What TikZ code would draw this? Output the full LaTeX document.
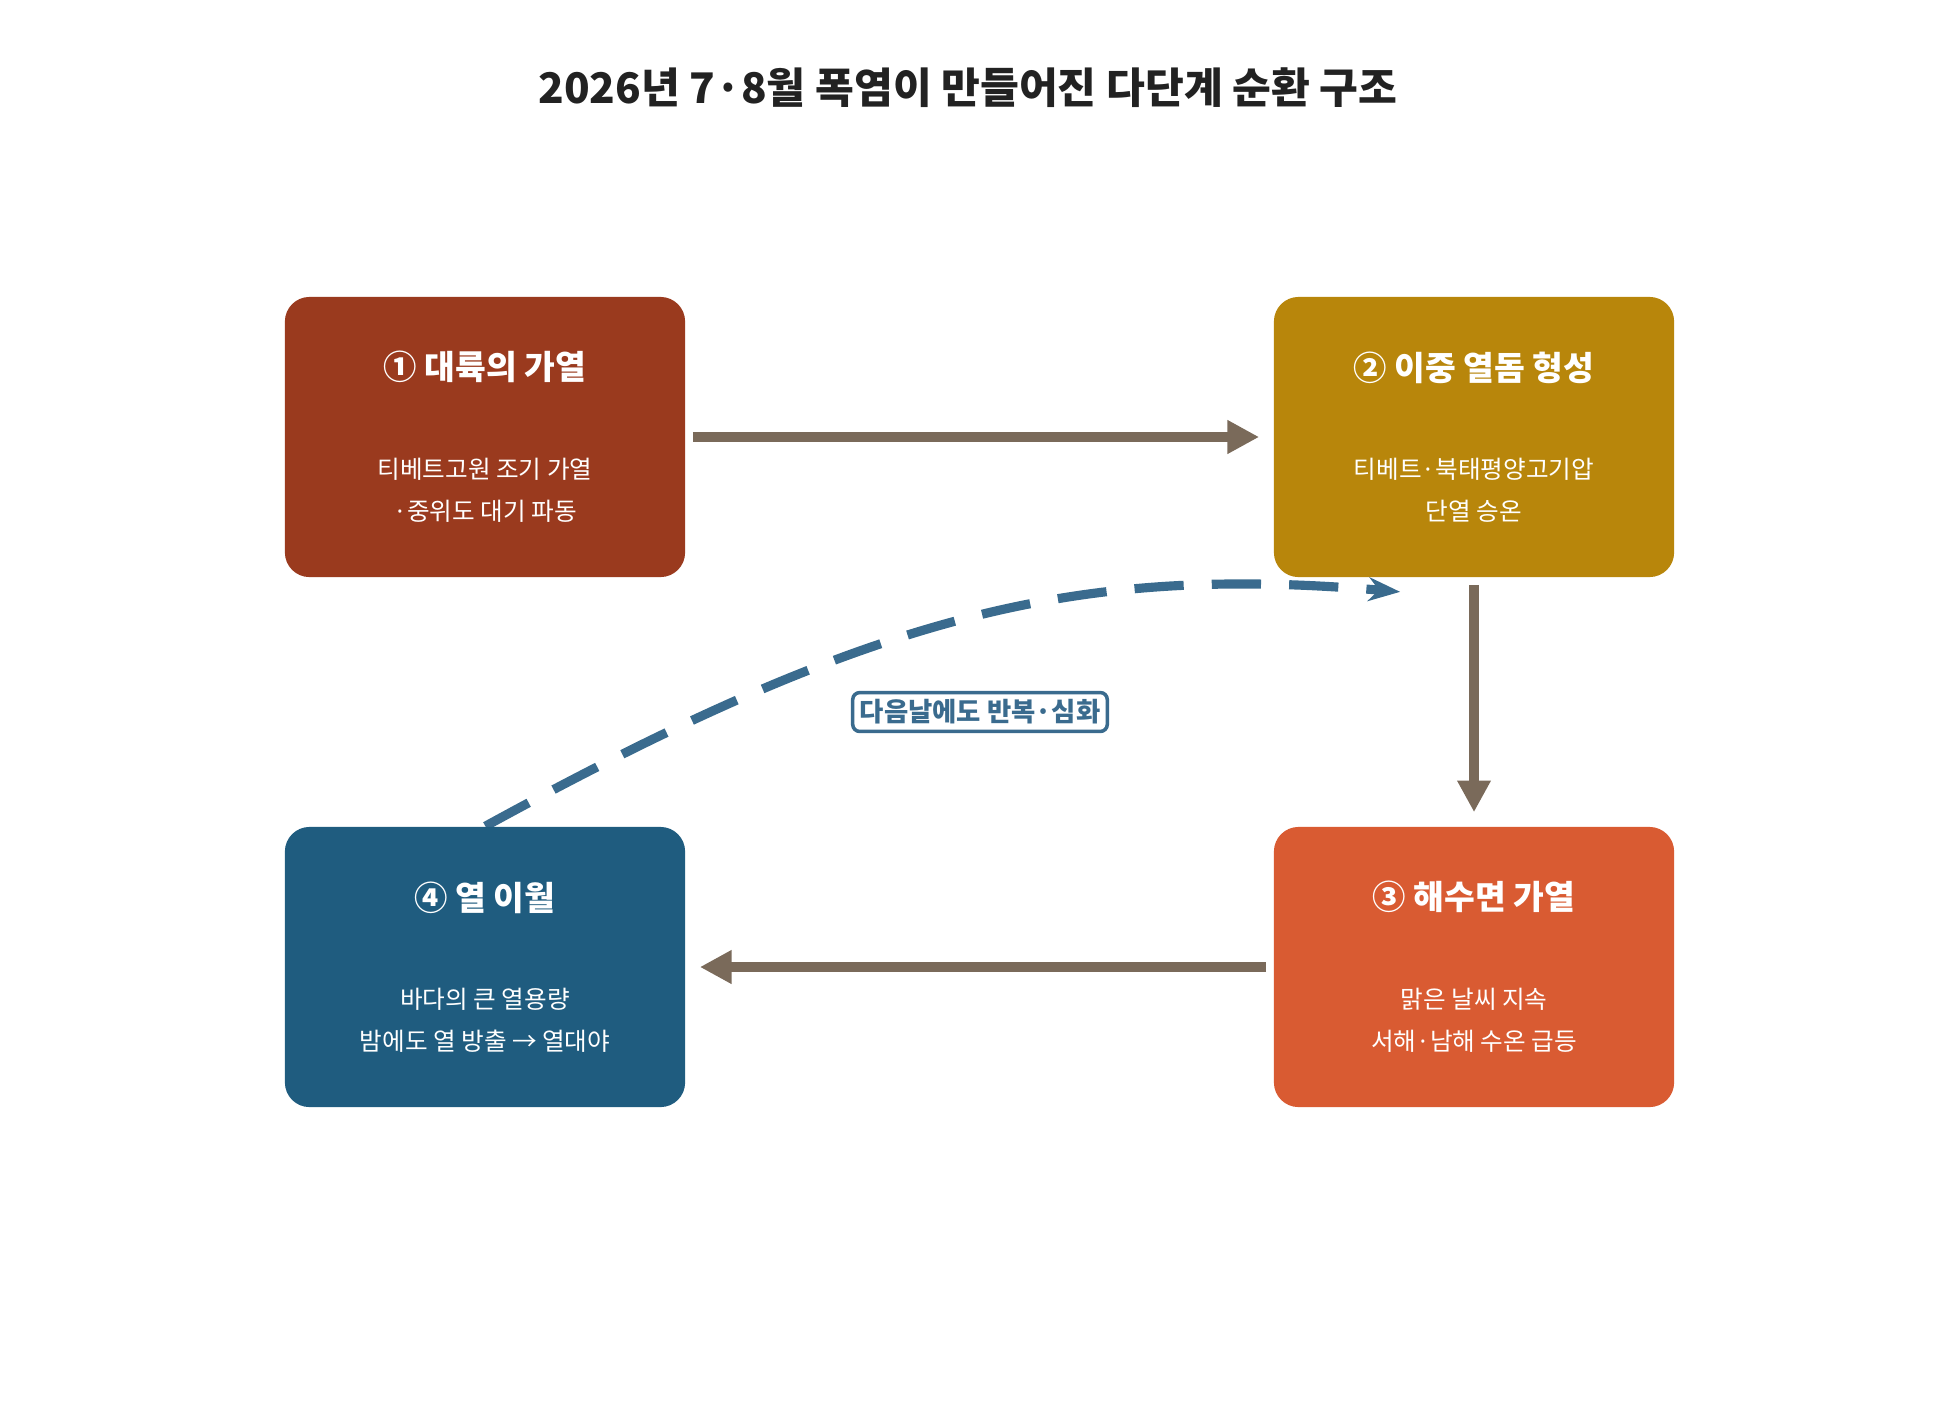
\documentclass[tikz,border=0pt]{standalone}
\usepackage{fontspec}
\setmainfont{Noto Sans CJK KR}
\usetikzlibrary{arrows.meta, positioning, calc, backgrounds}
\definecolor{heatred}{HTML}{9A3A1E}
\definecolor{heatgold}{HTML}{B8860B}
\definecolor{heatorange}{HTML}{D95B32}
\definecolor{seablue}{HTML}{1F5C7F}
\definecolor{flowbrown}{HTML}{7A6A5A}
\definecolor{loopblue}{HTML}{3A6B8E}
\definecolor{titlegray}{HTML}{222222}

\begin{document}
\begin{tikzpicture}[
    x=0.01cm, y=-0.01cm,
    stage/.style={
        rectangle,
        rounded corners=7pt,
        minimum width=4cm,
        minimum height=2.8cm,
        fill=#1,
        text=white,
        align=center
    },
    flow/.style={
        -{Triangle[length=9pt, width=9pt]},
        line width=2.6pt,
        flowbrown
    },
    loop/.style={
        -{Stealth[length=9pt]},
        line width=2.6pt,
        loopblue,
        dash pattern=on 14pt off 8pt
    }
]
\useasboundingbox (0,0) rectangle (1937,1427);

% Title
\node[font=\bfseries\fontsize{12}{14}\selectfont, titlegray] (title) at (968,88) {2026년 7·8월 폭염이 만들어진 다단계 순환 구조};

% Stages
\node[stage=heatred] (land) at (485,437) {{\bfseries\fontsize{9.5}{12}\selectfont ① 대륙의 가열}\\[16pt]\fontsize{7}{11}\selectfont 티베트고원 조기 가열\\\fontsize{7}{11}\selectfont ·중위도 대기 파동};
\node[stage=heatgold] (dome) at (1474,437) {{\bfseries\fontsize{9.5}{12}\selectfont ② 이중 열돔 형성}\\[16pt]\fontsize{7}{11}\selectfont 티베트·북태평양고기압\\\fontsize{7}{11}\selectfont 단열 승온};
\node[stage=heatorange] (sea) at (1474,967) {{\bfseries\fontsize{9.5}{12}\selectfont ③ 해수면 가열}\\[16pt]\fontsize{7}{11}\selectfont 맑은 날씨 지속\\\fontsize{7}{11}\selectfont 서해·남해 수온 급등};
\node[stage=seablue] (night) at (485,967) {{\bfseries\fontsize{9.5}{12}\selectfont ④ 열 이월}\\[16pt]\fontsize{7}{11}\selectfont 바다의 큰 열용량\\\fontsize{7}{11}\selectfont 밤에도 열 방출 → 열대야};

% Connections
\draw[flow] ([xshift=2pt]land.east) -- ([xshift=-4pt]dome.west);
\draw[flow] ([yshift=-2pt]dome.south) -- ([yshift=4pt]sea.north);
\draw[flow] ([xshift=-2pt]sea.west) -- ([xshift=4pt]night.east);

% Feedback loop, under the boxes
\coordinate (loopstart) at ([xshift=-57pt]night.north east);
\coordinate (loopend) at ([xshift=-21pt, yshift=-4pt]dome.south);
\begin{pgfonlayer}{background}
\draw[loop] (loopstart) .. controls (880,610) and (1080,565) .. (loopend);
\end{pgfonlayer}
\node[draw=loopblue, line width=1pt, fill=white, rounded corners=2pt, inner sep=2pt, text=loopblue, font=\bfseries\fontsize{7.5}{9}\selectfont] (looplabel) at (980,712) {다음날에도 반복·심화};

\end{tikzpicture}
\end{document}
